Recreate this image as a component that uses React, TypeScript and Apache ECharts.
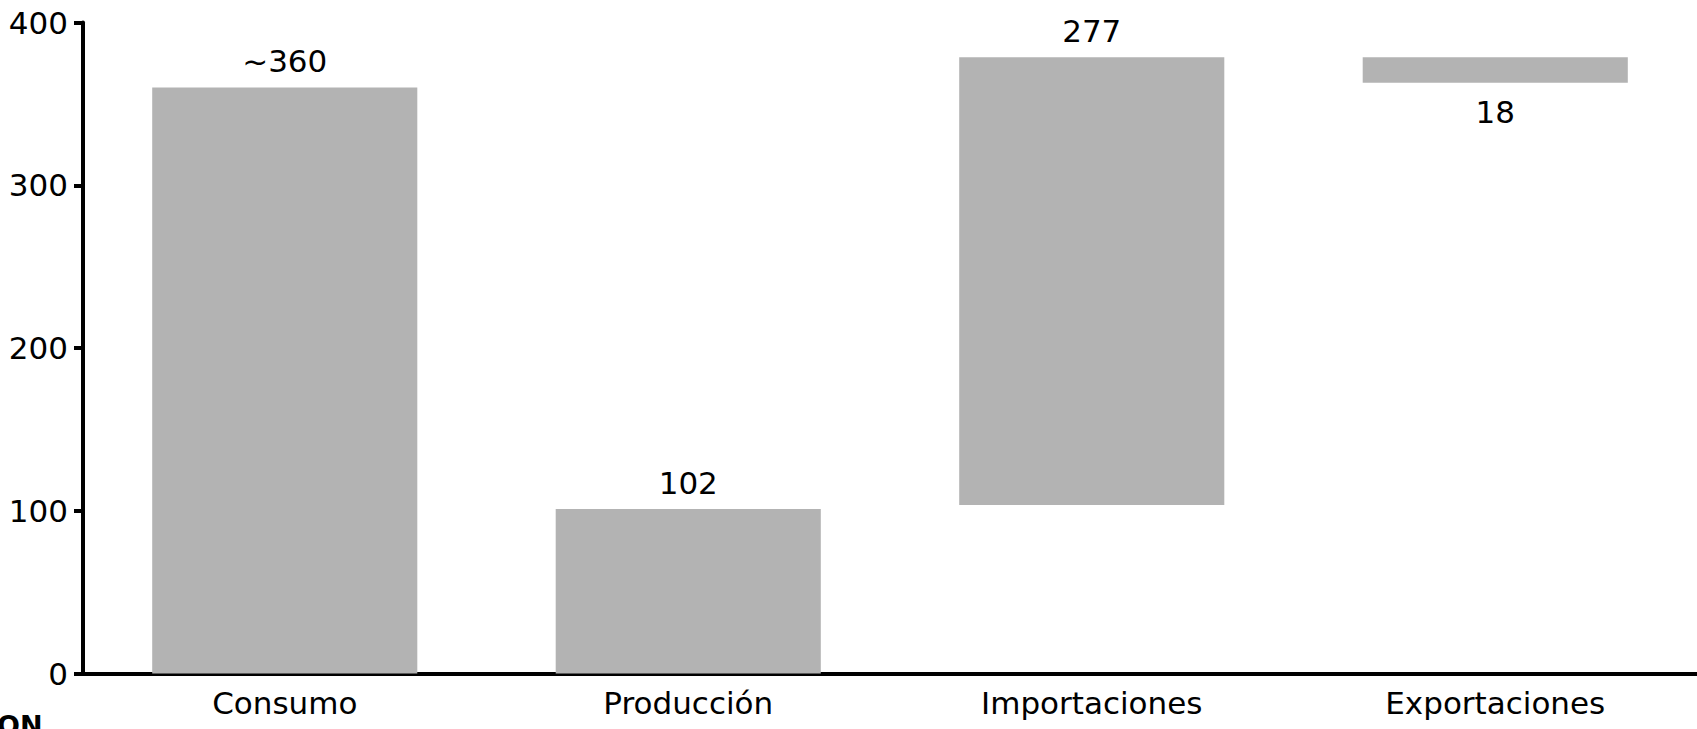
import React, { useEffect, useRef } from "react";
import * as echarts from "echarts";

const categories = ["Consumo", "Producción", "Importaciones", "Exportaciones"];
const barLows = [0, 0, 103.5, 363];
const barHighs = [360, 101, 378.6, 378.6];
const valueLabels = ["~360", "102", "277", "18"];
const labelPositions = ["top", "top", "top", "bottom"];
const yTicks = [0, 100, 200, 300, 400];

const FONT = "DejaVu Sans";
const FS = 31;

export default function App() {
  const ref = useRef<HTMLDivElement>(null);
  useEffect(() => {
    if (!ref.current) return;
    const chart = echarts.init(ref.current, undefined, { renderer: "svg" });
    const spans = barHighs.map((h, i) => h - barLows[i]);
    chart.setOption({
      animation: false,
      backgroundColor: "#ffffff",
      grid: { left: 83, right: 0, top: 22.5, bottom: 729 - 673.5, containLabel: false },
      xAxis: {
        type: "category",
        data: categories,
        axisLine: { show: true, lineStyle: { color: "#000", width: 4 } },
        axisTick: { show: false },
        axisLabel: { color: "#000", fontSize: FS, fontFamily: FONT, margin: 14 },
        splitLine: { show: false },
      },
      yAxis: {
        type: "value",
        min: yTicks[0],
        max: yTicks[yTicks.length - 1],
        interval: 100,
        axisLine: { show: true, lineStyle: { color: "#000", width: 4 } },
        axisTick: { show: true, length: 9, lineStyle: { color: "#000", width: 4 } },
        axisLabel: { color: "#000", fontSize: FS, fontFamily: FONT, margin: 15 },
        splitLine: { show: false },
      },
      series: [
        {
          type: "bar",
          stack: "w",
          data: barLows,
          itemStyle: { color: "transparent" },
          barWidth: "65.7%",
          silent: true,
        },
        {
          type: "bar",
          stack: "w",
          barWidth: "65.7%",
          data: spans.map((v, i) => ({
            value: v,
            label: {
              show: true,
              position: labelPositions[i],
              formatter: valueLabels[i],
              distance: labelPositions[i] === "top" ? 11 : 14,
              color: "#000",
              fontSize: FS,
              fontFamily: FONT,
            },
          })),
          itemStyle: { color: "#b3b3b3" },
        },
      ],
      graphic: [
        {
          type: "text",
          left: -3,
          top: 712,
          style: {
            text: "ON",
            fontFamily: FONT,
            fontWeight: "bold",
            fontSize: 27,
            fill: "#000",
          },
        },
      ],
    });
    return () => chart.dispose();
  }, []);
  return (
    <div
      ref={ref}
      style={{ position: "fixed", left: 0, top: 0, width: 1697, height: 729, background: "#fff" }}
    />
  );
}
